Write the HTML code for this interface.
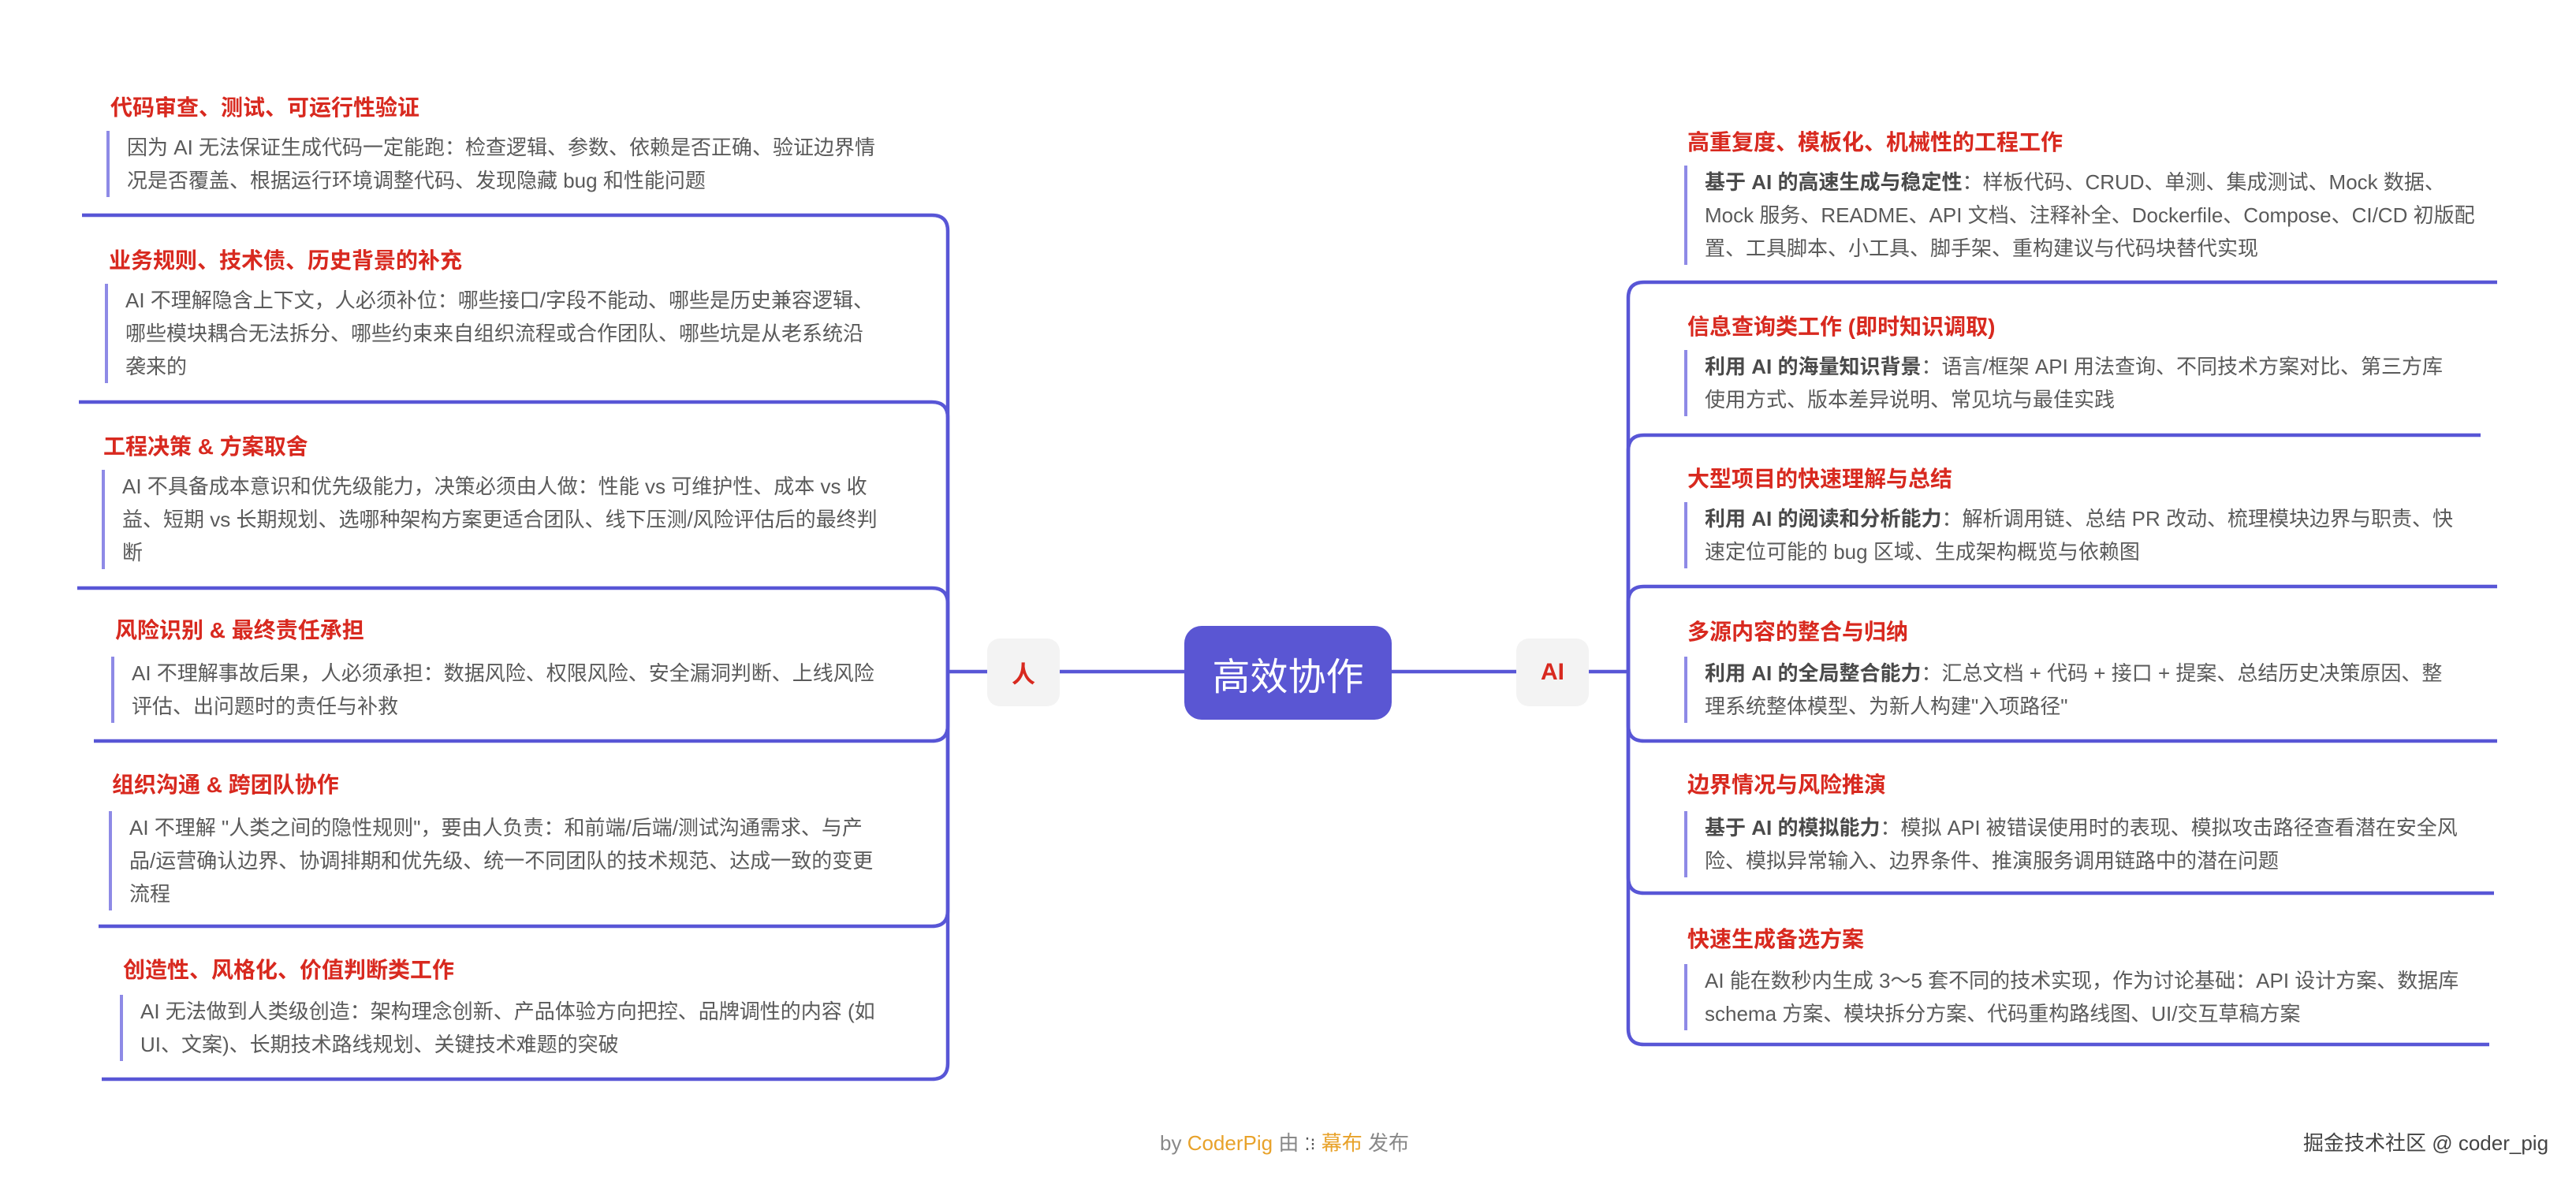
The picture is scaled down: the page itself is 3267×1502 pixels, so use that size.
<!DOCTYPE html>
<html><head><meta charset="utf-8">
<style>
html,body{margin:0;padding:0;background:#fff;}
body{width:3267px;height:1502px;position:relative;overflow:hidden;font-family:"Liberation Sans","Noto Sans CJK SC",sans-serif;}
.t{position:absolute;line-height:42px;font-size:28px;font-weight:bold;color:#d8291f;white-space:nowrap;}
.b{position:absolute;line-height:42px;font-size:26px;color:#5a5a5a;white-space:nowrap;border-left:4px solid #8e8ae6;padding-left:22px;}
.b b{color:#4a4a4a;}
svg{position:absolute;left:0;top:0;}
.node{position:absolute;display:flex;align-items:center;justify-content:center;}
</style></head><body>
<svg width="3267" height="1502">
<g fill="none" stroke="#5856d6" stroke-width="4.5">
<path d="M104 273 H1182 Q1202 273 1202 293 V852"/>
<path d="M100 510 H1182 Q1202 510 1202 530 V852"/>
<path d="M98 746 H1182 Q1202 746 1202 766 V852"/>
<path d="M119 940 H1182 Q1202 940 1202 920 V852"/>
<path d="M125 1175 H1182 Q1202 1175 1202 1155 V852"/>
<path d="M129 1369 H1182 Q1202 1369 1202 1349 V852"/>
<path d="M3167 358 H2085 Q2065 358 2065 378 V852"/>
<path d="M3146 552 H2085 Q2065 552 2065 572 V852"/>
<path d="M3167 744 H2085 Q2065 744 2065 764 V852"/>
<path d="M3167 940 H2085 Q2065 940 2065 920 V852"/>
<path d="M3163 1133 H2085 Q2065 1133 2065 1113 V852"/>
<path d="M3157 1325 H2085 Q2065 1325 2065 1305 V852"/>
<path d="M1202 852 H1252 M1344 852 H1502 M1765 852 H1923 M2015 852 H2065"/>
</g>
</svg>
<div class="node" style="left:1502px;top:794px;width:263px;height:119px;background:#5a56d3;border-radius:22px;color:#fff;font-size:48px;">高效协作</div>
<div class="node" style="left:1252px;top:810px;width:92px;height:86px;background:#f3f3f3;border-radius:16px;color:#d8291f;font-size:30px;font-weight:bold;">人</div>
<div class="node" style="left:1923px;top:810px;width:92px;height:86px;background:#f3f3f3;border-radius:16px;color:#d8291f;font-size:30px;font-weight:bold;">AI</div>

<div class="t" style="left:140px;top:116px;">代码审查、测试、可运行性验证</div>
<div class="b" style="left:135px;top:166px;">因为 AI 无法保证生成代码一定能跑：检查逻辑、参数、依赖是否正确、验证边界情<br>况是否覆盖、根据运行环境调整代码、发现隐藏 bug 和性能问题</div>

<div class="t" style="left:138px;top:310px;">业务规则、技术债、历史背景的补充</div>
<div class="b" style="left:133px;top:360px;">AI 不理解隐含上下文，人必须补位：哪些接口/字段不能动、哪些是历史兼容逻辑、<br>哪些模块耦合无法拆分、哪些约束来自组织流程或合作团队、哪些坑是从老系统沿<br>袭来的</div>

<div class="t" style="left:131px;top:546px;">工程决策 &amp; 方案取舍</div>
<div class="b" style="left:129px;top:596px;">AI 不具备成本意识和优先级能力，决策必须由人做：性能 vs 可维护性、成本 vs 收<br>益、短期 vs 长期规划、选哪种架构方案更适合团队、线下压测/风险评估后的最终判<br>断</div>

<div class="t" style="left:146px;top:779px;">风险识别 &amp; 最终责任承担</div>
<div class="b" style="left:141px;top:833px;">AI 不理解事故后果，人必须承担：数据风险、权限风险、安全漏洞判断、上线风险<br>评估、出问题时的责任与补救</div>

<div class="t" style="left:142px;top:975px;">组织沟通 &amp; 跨团队协作</div>
<div class="b" style="left:138px;top:1029px;">AI 不理解 "人类之间的隐性规则"，要由人负责：和前端/后端/测试沟通需求、与产<br>品/运营确认边界、协调排期和优先级、统一不同团队的技术规范、达成一致的变更<br>流程</div>

<div class="t" style="left:156px;top:1210px;">创造性、风格化、价值判断类工作</div>
<div class="b" style="left:152px;top:1262px;">AI 无法做到人类级创造：架构理念创新、产品体验方向把控、品牌调性的内容 (如<br>UI、文案)、长期技术路线规划、关键技术难题的突破</div>

<div class="t" style="left:2140px;top:160px;">高重复度、模板化、机械性的工程工作</div>
<div class="b" style="left:2136px;top:210px;"><b>基于 AI 的高速生成与稳定性</b>：样板代码、CRUD、单测、集成测试、Mock 数据、<br>Mock 服务、README、API 文档、注释补全、Dockerfile、Compose、CI/CD 初版配<br>置、工具脚本、小工具、脚手架、重构建议与代码块替代实现</div>

<div class="t" style="left:2140px;top:394px;">信息查询类工作 (即时知识调取)</div>
<div class="b" style="left:2136px;top:444px;"><b>利用 AI 的海量知识背景</b>：语言/框架 API 用法查询、不同技术方案对比、第三方库<br>使用方式、版本差异说明、常见坑与最佳实践</div>

<div class="t" style="left:2140px;top:587px;">大型项目的快速理解与总结</div>
<div class="b" style="left:2136px;top:637px;"><b>利用 AI 的阅读和分析能力</b>：解析调用链、总结 PR 改动、梳理模块边界与职责、快<br>速定位可能的 bug 区域、生成架构概览与依赖图</div>

<div class="t" style="left:2140px;top:781px;">多源内容的整合与归纳</div>
<div class="b" style="left:2136px;top:833px;"><b>利用 AI 的全局整合能力</b>：汇总文档 + 代码 + 接口 + 提案、总结历史决策原因、整<br>理系统整体模型、为新人构建"入项路径"</div>

<div class="t" style="left:2140px;top:975px;">边界情况与风险推演</div>
<div class="b" style="left:2136px;top:1029px;"><b>基于 AI 的模拟能力</b>：模拟 API 被错误使用时的表现、模拟攻击路径查看潜在安全风<br>险、模拟异常输入、边界条件、推演服务调用链路中的潜在问题</div>

<div class="t" style="left:2140px;top:1171px;">快速生成备选方案</div>
<div class="b" style="left:2136px;top:1223px;">AI 能在数秒内生成 3～5 套不同的技术实现，作为讨论基础：API 设计方案、数据库<br>schema 方案、模块拆分方案、代码重构路线图、UI/交互草稿方案</div>

<div style="position:absolute;left:1471px;top:1432px;font-size:26px;line-height:36px;color:#888;white-space:nowrap;">by <span style="color:#e8a22a;">CoderPig</span> 由 <span style="color:#555;font-size:22px;">⁚⁝</span> <span style="color:#e8a22a;">幕布</span> 发布</div>
<div style="position:absolute;left:2921px;top:1432px;font-size:26px;line-height:36px;color:#444;white-space:nowrap;">掘金技术社区 @ coder_pig</div>
</body></html>
